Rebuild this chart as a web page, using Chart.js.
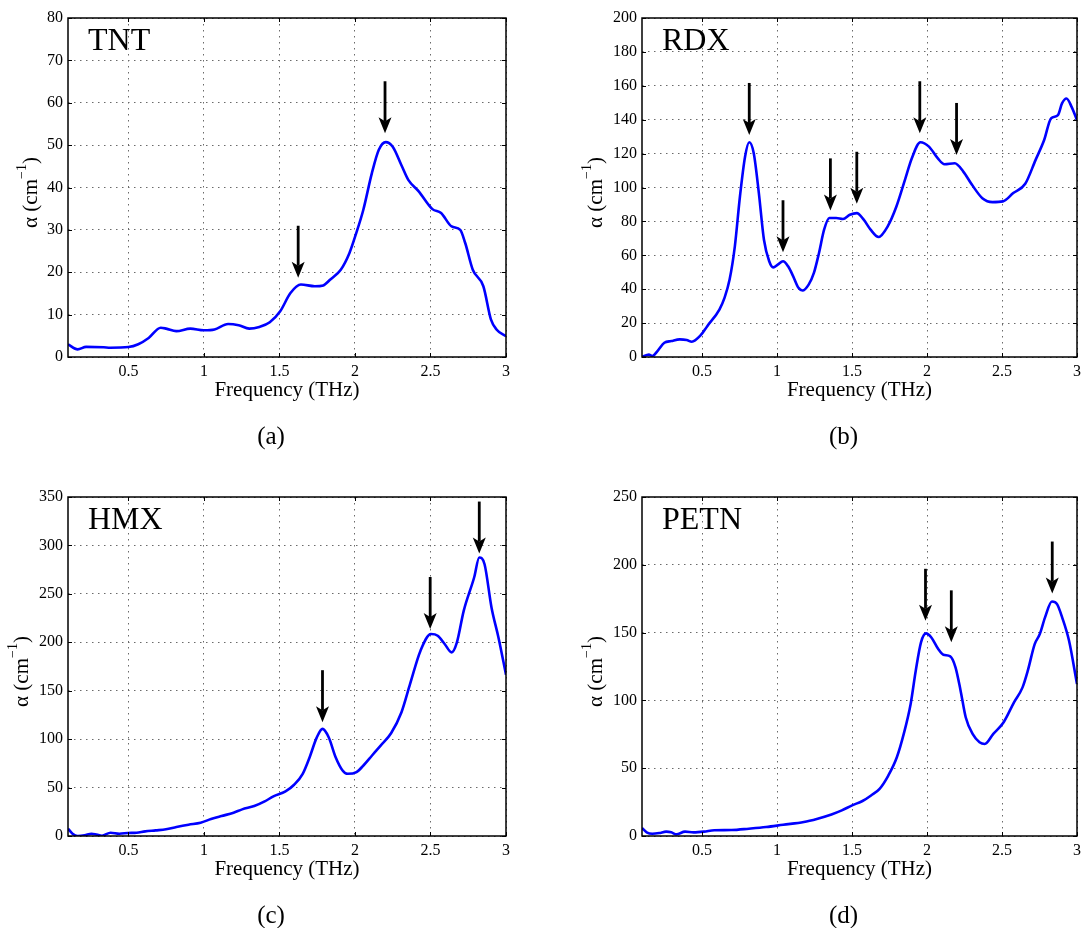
<!DOCTYPE html>
<html>
<head>
<meta charset="utf-8">
<script src="https://cdn.jsdelivr.net/npm/chart.js@4.4.0/dist/chart.umd.min.js"></script>
<style>
body{margin:0;background:#fff;}
#wrap{position:relative;width:1086px;height:928px;}
canvas{position:absolute;}
</style>
</head>
<body>
<div id="wrap">
<canvas id="pa" width="543" height="464" style="left:0;top:0"></canvas>
<canvas id="pb" width="543" height="464" style="left:543px;top:0"></canvas>
<canvas id="pc" width="543" height="464" style="left:0;top:464px"></canvas>
<canvas id="pd" width="543" height="464" style="left:543px;top:464px"></canvas>
</div>
<script>
/* x ticks, shared by all panels */
let xTicks = [0.5, 1, 1.5, 2, 2.5, 3];

/* (a) TNT */
let tntFreq  = [0.1,0.164,0.22,0.336,0.38,0.5,0.565,0.634,0.714,0.75,0.817,0.91,1.0,1.07,1.16,1.23,1.30,1.367,1.436,1.505,1.573,1.642,1.734,1.79,1.837,1.906,1.963,2.009,2.055,2.112,2.158,2.204,2.25,2.307,2.353,2.422,2.513,2.57,2.64,2.697,2.73,2.78,2.85,2.9,2.937,3.0];
let tntAlpha = [3.0,1.8,2.4,2.3,2.2,2.35,3.0,4.5,6.9,6.7,6.1,6.7,6.3,6.5,7.8,7.5,6.7,7.1,8.2,10.8,15.1,17.1,16.7,16.9,18.3,20.6,24.5,29.3,34.7,43.4,48.9,50.7,49.6,45.3,41.8,39.1,34.9,34.0,30.8,30.0,26.9,20.6,16.7,8.9,6.5,4.9];
let tntArrowFreq = [1.624, 2.199];
let tntArrowTip  = [18.7, 52.8];

/* (b) RDX */
let rdxFreq  = [0.1,0.146,0.169,0.203,0.249,0.295,0.352,0.398,0.432,0.49,0.535,0.616,0.65,0.684,0.719,0.753,0.787,0.815,0.845,0.879,0.913,0.948,0.975,1.005,1.04,1.074,1.108,1.143,1.17,1.211,1.246,1.28,1.314,1.349,1.395,1.44,1.486,1.532,1.578,1.624,1.677,1.738,1.796,1.853,1.899,1.956,2.013,2.071,2.117,2.185,2.242,2.3,2.369,2.437,2.506,2.575,2.655,2.724,2.781,2.827,2.873,2.9,2.93,2.964,3.0];
let rdxAlpha = [0,1.4,0.6,3.5,8.4,9.4,10.4,10.0,9.0,12.7,18.2,28,34.9,45.7,65.3,94.7,118.2,126.7,120.2,96.7,69.2,56.5,52.9,54.5,56.5,53.5,47.6,40.8,39.2,42.7,49.6,61.4,75.1,82,82,81.4,83.9,84.9,81,75.1,70.8,77.1,88.8,104.5,117.3,126.7,124.1,117.3,113.7,114.3,109.4,101.6,93.7,91.4,91.8,96.7,102.2,116.3,128,140.8,142.7,149.6,152.5,147.6,139.8];
let rdxArrowFreq = [0.815, 1.04, 1.356, 1.532, 1.952, 2.197];
let rdxArrowTip  = [131, 61.8, 86.5, 90.4, 132, 119.2];

/* (c) HMX */
let hmxFreq  = [0.1,0.13,0.164,0.21,0.256,0.29,0.325,0.382,0.44,0.497,0.554,0.611,0.68,0.749,0.818,0.898,0.978,1.047,1.116,1.196,1.253,1.333,1.402,1.46,1.54,1.597,1.654,1.70,1.746,1.785,1.826,1.872,1.918,1.952,2.01,2.056,2.113,2.17,2.239,2.308,2.365,2.434,2.503,2.548,2.594,2.64,2.675,2.72,2.789,2.823,2.858,2.904,2.95,3.0];
let hmxAlpha = [7.6,2.4,0,0.7,2.4,1.4,0.3,3.4,2.4,3.1,3.4,4.8,5.8,6.9,9.3,11.7,13.7,17.5,20.6,24,27.5,30.9,35.7,40.9,46,52.9,64.2,81.4,101.3,110.6,102,81.4,67.7,64.2,66,72.8,83.1,93.4,106.1,127.8,157,191.3,208.5,206.8,198.2,189.6,200,232.5,266.9,287.5,280.6,236,205,166.6];
let hmxArrowFreq = [1.785, 2.498, 2.823];
let hmxArrowTip  = [117.5, 213.7, 291.6];

/* (d) PETN */
let petnFreq  = [0.1,0.134,0.169,0.215,0.261,0.295,0.33,0.387,0.444,0.513,0.582,0.697,0.812,0.927,1.041,1.179,1.271,1.363,1.432,1.501,1.57,1.627,1.684,1.742,1.799,1.845,1.891,1.925,1.96,1.994,2.029,2.075,2.109,2.155,2.19,2.224,2.258,2.304,2.35,2.385,2.442,2.511,2.58,2.637,2.672,2.718,2.752,2.787,2.833,2.867,2.901,2.947,3.0];
let petnAlpha = [5.9,2.5,1.7,2.2,3.2,2.7,1.2,3.2,2.7,3.2,4.2,4.4,5.4,6.6,8.3,10.3,12.8,15.9,18.9,22.6,25.8,29.9,34.8,44.6,58.1,75.3,97.4,121.9,142.8,149.4,146.4,137.9,133.7,132.5,124.4,107.2,87.6,75.3,69.2,67.9,75.3,83.9,98.6,109.6,121.9,141.5,148.9,161.2,172.9,171,161.2,144,112.1];
let petnArrowFreq = [1.99, 2.162, 2.835];
let petnArrowTip  = [158.7, 142.8, 178.8];

let serif = "'Liberation Serif', 'DejaVu Serif', serif";

/* frame, inner ticks, arrows, labels */
let decoPlugin = {
  id: "deco",
  afterDraw(chart){
    let o = chart.options.plugins.deco;
    let ctx = chart.ctx;
    let a = chart.chartArea;
    let xs = chart.scales.x, ys = chart.scales.y;
    ctx.save();

    // inner tick marks
    ctx.strokeStyle = "#000";
    ctx.lineWidth = 1;
    ctx.beginPath();
    xs.ticks.forEach(t => {
      let px = Math.round(xs.getPixelForValue(t.value)) + 0.5;
      ctx.moveTo(px, a.bottom); ctx.lineTo(px, a.bottom - 4);
      ctx.moveTo(px, a.top); ctx.lineTo(px, a.top + 4);
    });
    ys.ticks.forEach(t => {
      let py = Math.round(ys.getPixelForValue(t.value)) + 0.5;
      ctx.moveTo(a.left, py); ctx.lineTo(a.left + 4, py);
      ctx.moveTo(a.right, py); ctx.lineTo(a.right - 4, py);
    });
    ctx.stroke();

    // box
    ctx.lineWidth = 1.5;
    ctx.strokeRect(a.left, a.top, a.right - a.left, a.bottom - a.top);

    // arrows
    ctx.fillStyle = "#000";
    o.arrowFreq.forEach((f, i) => {
      let px = xs.getPixelForValue(f);
      let tip = ys.getPixelForValue(o.arrowTip[i]);
      ctx.lineWidth = 2.8;
      ctx.beginPath();
      ctx.moveTo(px, tip - 52);
      ctx.lineTo(px, tip - 12);
      ctx.stroke();
      ctx.beginPath();
      ctx.moveTo(px, tip);
      ctx.lineTo(px - 6.5, tip - 16);
      ctx.lineTo(px, tip - 12);
      ctx.lineTo(px + 6.5, tip - 16);
      ctx.closePath();
      ctx.fill();
    });

    // sample name
    ctx.font = "32px " + serif;
    ctx.textAlign = "left";
    ctx.textBaseline = "alphabetic";
    ctx.fillText(o.name, a.left + 20, a.top + 32);

    // x title
    let cx = (a.left + a.right) / 2;
    ctx.font = "21px " + serif;
    ctx.textAlign = "center";
    ctx.textBaseline = "middle";
    ctx.fillText("Frequency (THz)", cx, a.bottom + 33);

    // sub label
    ctx.font = "25px " + serif;
    ctx.fillText(o.sub, cx - 16, a.bottom + 80);

    // y title with superscript
    ctx.translate(o.yTitleX, (a.top + a.bottom) / 2 + 5);
    ctx.rotate(-Math.PI / 2);
    ctx.textAlign = "left";
    ctx.textBaseline = "middle";
    ctx.font = "21px " + serif;
    let p1 = "\u03b1 (cm", p3 = ")";
    let w1 = ctx.measureText(p1).width, w3 = ctx.measureText(p3).width;
    ctx.font = "14px " + serif;
    let p2 = "\u22121";
    let w2 = ctx.measureText(p2).width;
    let x0 = -(w1 + w2 + w3) / 2;
    ctx.font = "21px " + serif;
    ctx.fillText(p1, x0, 0);
    ctx.font = "14px " + serif;
    ctx.fillText(p2, x0 + w1, -9);
    ctx.font = "21px " + serif;
    ctx.fillText(p3, x0 + w1 + w2, 0);

    ctx.restore();
  }
};

function makePanel(id, freq, alpha, yMax, yStep, yWidth, pad, deco){
  let pts = freq.map((f, i) => ({x: f, y: alpha[i]}));
  return new Chart(document.getElementById(id), {
    type: "line",
    data: {
      datasets: [{
        data: pts,
        borderColor: "#0000ff",
        borderWidth: 2.6,
        pointRadius: 0,
        cubicInterpolationMode: "monotone",
        fill: false
      }]
    },
    options: {
      responsive: false,
      animation: false,
      devicePixelRatio: 1,
      layout: {padding: pad},
      plugins: {legend: {display: false}, tooltip: {enabled: false}, deco: deco},
      scales: {
        x: {
          type: "linear",
          min: 0.1, max: 3,
          afterBuildTicks: s => { s.ticks = xTicks.map(v => ({value: v})); },
          afterFit: s => { s.height = 25; },
          grid: {color: "#6a6a6a", lineWidth: 1, drawTicks: false},
          border: {display: false, dash: [1.5, 4.5]},
          ticks: {color: "#000", font: {family: serif, size: 16}, padding: 5, maxRotation: 0, callback: v => String(v)}
        },
        y: {
          min: 0, max: yMax,
          ticks: {stepSize: yStep, color: "#000", font: {family: serif, size: 16}, padding: 5},
          afterFit: s => { s.width = yWidth; },
          grid: {color: "#6a6a6a", lineWidth: 1, drawTicks: false},
          border: {display: false, dash: [1.5, 4.5]}
        }
      }
    },
    plugins: [decoPlugin]
  });
}

makePanel("pa", tntFreq, tntAlpha, 80, 10, 68, {left: 0, top: 18, right: 37, bottom: 82},
  {name: "TNT", sub: "(a)", arrowFreq: tntArrowFreq, arrowTip: tntArrowTip, yTitleX: 31});
makePanel("pb", rdxFreq, rdxAlpha, 200, 20, 99, {left: 0, top: 18, right: 8, bottom: 82},
  {name: "RDX", sub: "(b)", arrowFreq: rdxArrowFreq, arrowTip: rdxArrowTip, yTitleX: 53});
makePanel("pc", hmxFreq, hmxAlpha, 350, 50, 68, {left: 0, top: 33, right: 37, bottom: 67},
  {name: "HMX", sub: "(c)", arrowFreq: hmxArrowFreq, arrowTip: hmxArrowTip, yTitleX: 22});
makePanel("pd", petnFreq, petnAlpha, 250, 50, 99, {left: 0, top: 33, right: 8, bottom: 67},
  {name: "PETN", sub: "(d)", arrowFreq: petnArrowFreq, arrowTip: petnArrowTip, yTitleX: 53});
</script>
</body>
</html>
